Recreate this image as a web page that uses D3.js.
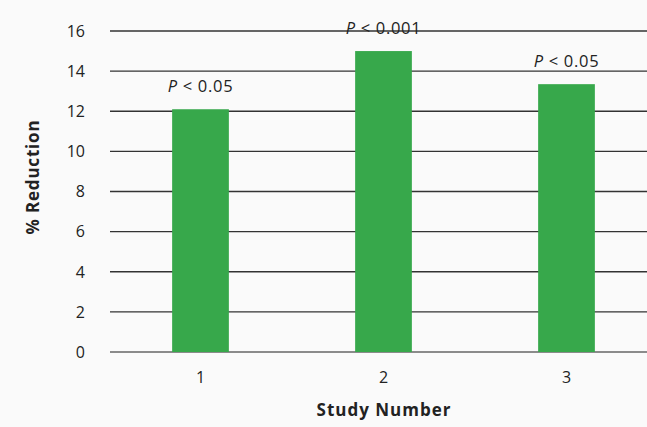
<!DOCTYPE html>
<html><head><meta charset="utf-8">
<script src="https://cdn.jsdelivr.net/npm/d3@7"></script>
<style>body{margin:0;background:#fafafa;}svg{display:block;font-family:"Open Sans",Lato,sans-serif;}</style>
</head><body><svg id="c" width="647" height="427"></svg>
<script>
const categories = ["1","2","3"];
const values = [12.1, 15.0, 13.35];
const pLabels = ["0.05","0.001","0.05"];
const yTicks = [0,2,4,6,8,10,12,14,16];

const svg = d3.select("#c");
const x = d3.scaleBand().domain(categories).range([109, 658]).paddingInner(0.69).paddingOuter(0.345);
const y = d3.scaleLinear().domain([0,16]).range([352, 31]);

// gridlines
svg.append("g").selectAll("line").data(yTicks).join("line")
  .attr("x1",110).attr("x2",647).attr("y1",d=>y(d)).attr("y2",d=>y(d))
  .attr("stroke",d=>d===0?"#666":"#333").attr("stroke-width",1.3);

// y tick labels
svg.append("g").selectAll("text").data(yTicks).join("text")
  .attr("x",85).attr("y",d=>y(d)).attr("dy","0.36em").attr("text-anchor","end")
  .attr("font-size",16).attr("fill","#222").text(d=>d);

// bars
svg.append("g").selectAll("rect").data(values).join("rect")
  .attr("x",(d,i)=>x(categories[i])).attr("width",x.bandwidth())
  .attr("y",d=>y(d)).attr("height",d=>y(0)-y(d)).attr("fill","#37a84b");

// x tick labels
svg.append("g").selectAll("text").data(categories).join("text")
  .attr("x",d=>x(d)+x.bandwidth()/2).attr("y",383).attr("text-anchor","middle")
  .attr("font-size",16).attr("fill","#222").text(d=>d);

// p labels
const pl = svg.append("g").selectAll("text").data(values).join("text")
  .attr("x",(d,i)=>x(categories[i])+x.bandwidth()/2).attr("y",d=>y(d)-17)
  .attr("text-anchor","middle").attr("font-size",16.5).attr("letter-spacing",0.7).attr("fill","#222");
pl.append("tspan").attr("font-style","italic").text("P");
pl.append("tspan").text((d,i)=>" < "+pLabels[i]);

// axis titles
svg.append("text").attr("x",384).attr("y",416).attr("text-anchor","middle")
  .attr("font-size",17).attr("font-weight","bold").attr("letter-spacing",1).attr("fill","#222").text("Study Number");
svg.append("text").attr("transform","translate(39,177) rotate(-90)").attr("text-anchor","middle")
  .attr("font-size",17).attr("font-weight","bold").attr("letter-spacing",0.8).attr("fill","#222").text("% Reduction");
</script></body></html>
